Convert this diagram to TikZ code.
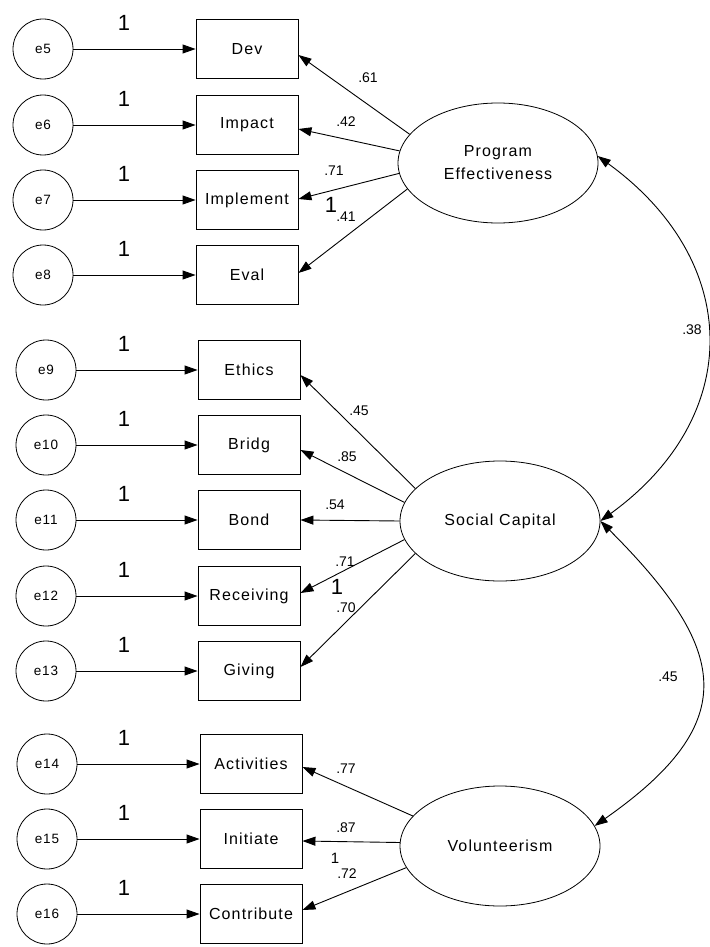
\documentclass[tikz,border=0pt]{standalone}
\usepackage{fontspec}
\setmainfont{Liberation Sans}
\newfontfamily\spacedfont[LetterSpace=7]{Liberation Sans}
\usetikzlibrary{shapes.geometric,arrows.meta}

\begin{document}
\begin{tikzpicture}[x=1pt,y=1pt,
  obs/.style={draw, line width=0.9pt, minimum width=102pt, minimum height=59pt,
    inner sep=0pt, font=\spacedfont\fontsize{16}{19}\selectfont},
  err/.style={draw, circle, line width=0.8pt, minimum size=60pt, inner sep=0pt,
    font=\spacedfont\fontsize{13.5}{15}\selectfont},
  lat/.style={draw, ellipse, line width=0.8pt, minimum width=200pt,
    minimum height=120pt, inner sep=0pt, align=center,
    font=\spacedfont\fontsize{16}{23}\selectfont},
  reg/.style={line width=0.9pt, -{Triangle[length=13pt,width=9pt]}},
  cov/.style={line width=0.9pt, {Triangle[length=13pt,width=9pt]}-{Triangle[length=13pt,width=9pt]}},
  coef/.style={inner sep=0pt, font=\fontsize{14}{16}\selectfont},
  one/.style={inner sep=0pt, font=\fontsize{22}{24}\selectfont},
]
% page frame
\fill[white] (0,0) rectangle (709,-947);
\useasboundingbox (0,0) rectangle (709,-947);

% ---------- latent variables ----------
\node[lat] (pe)  at (498,-163) {Program\\Effectiveness};
\node[lat] (sc)  at (500,-521) {Social Capital};
\node[lat] (vol) at (500,-846) {Volunteerism};

% ---------- Program Effectiveness indicators ----------
\node[err] (e5) at (43,-49)  {e5};
\node[err] (e6) at (43,-125) {e6};
\node[err] (e7) at (43,-200) {e7};
\node[err] (e8) at (43,-275) {e8};
\node[obs] (dev)       at (247,-49)  {Dev};
\node[obs] (impact)    at (247,-125) {Impact};
\node[obs] (implement) at (247,-200) {Implement};
\node[obs] (eval)      at (247,-275) {Eval};

% ---------- Social Capital indicators ----------
\node[err] (e9)  at (46,-370) {e9};
\node[err] (e10) at (46,-445) {e10};
\node[err] (e11) at (46,-520) {e11};
\node[err] (e12) at (46,-596) {e12};
\node[err] (e13) at (46,-671) {e13};
\node[obs] (ethics)    at (249,-370) {Ethics};
\node[obs] (bridg)     at (249,-445) {Bridg};
\node[obs] (bond)      at (249,-520) {Bond};
\node[obs] (receiving) at (249,-596) {Receiving};
\node[obs] (giving)    at (249,-671) {Giving};

% ---------- Volunteerism indicators ----------
\node[err] (e14) at (47,-764) {e14};
\node[err] (e15) at (47,-839) {e15};
\node[err] (e16) at (47,-914) {e16};
\node[obs] (activities) at (251,-764) {Activities};
\node[obs] (initiate)   at (251,-839) {Initiate};
\node[obs] (contribute) at (251,-914) {Contribute};

% ---------- error paths, each fixed at 1 ----------
\foreach \e/\o/\y in {e5/dev/49, e6/impact/125, e7/implement/200, e8/eval/275,
                     e9/ethics/370, e10/bridg/445, e11/bond/520, e12/receiving/596,
                     e13/giving/671, e14/activities/764, e15/initiate/839,
                     e16/contribute/914}{
  \draw[reg] (\e) -- (\o);
  \node[one] (w\e) at (124,-\y+26) {1};
}

% ---------- factor loadings ----------
\draw[reg] (pe.162) -- ([yshift=-6pt]dev.east);
\draw[reg] (pe.173) -- ([yshift=-4pt]impact.east);
\draw[reg] (pe.186) -- ([yshift=1pt]implement.east);
\draw[reg] (pe.196) -- ([yshift=2pt]eval.east);

\draw[reg] (sc.159) -- ([yshift=-5pt]ethics.east);
\draw[reg] (sc.169) -- ([yshift=-5pt]bridg.east);
\draw[reg] (sc.180) -- (bond.east);
\draw[reg] (sc.191) -- ([yshift=3pt]receiving.east);
\draw[reg] (sc.201) -- ([yshift=4pt]giving.east);

\draw[reg] (vol.161) -- ([yshift=-3pt]activities.east);
\draw[reg] (vol.178) -- ([yshift=-2pt]initiate.east);
\draw[reg] (vol.193) -- ([yshift=4pt]contribute.east);

% loading estimates
\node[coef] (l61) at (368,-78)  {.61};
\node[coef] (l42) at (346,-122) {.42};
\node[coef] (l71a) at (334,-171) {.71};
\node[one]  (f1a) at (331,-205) {1};
\node[coef] (l41) at (346,-217) {.41};

\node[coef] (l45) at (359,-411) {.45};
\node[coef] (l85) at (347,-457) {.85};
\node[coef] (l54) at (335,-505) {.54};
\node[coef] (l71b) at (345,-562) {.71};
\node[one]  (f1b) at (337,-587) {1};
\node[coef] (l70) at (346,-608) {.70};

\node[coef] (l77) at (346,-769) {.77};
\node[coef] (l87) at (346,-828) {.87};
\node[one, font=\fontsize{15}{17}\selectfont] (f1c) at (335,-858) {1};
\node[coef] (l72) at (347,-874) {.72};

% ---------- factor covariances ----------
\draw[cov] (pe.4) to[out=-36, in=36, looseness=1.25] (sc.east);
\draw[cov] (sc.east) to[out=-45, in=35, looseness=1.52] (vol.12);
\node[coef] (c38) at (692,-330) {.38};
\node[coef] (c45) at (668,-677) {.45};
\end{tikzpicture}
\end{document}
